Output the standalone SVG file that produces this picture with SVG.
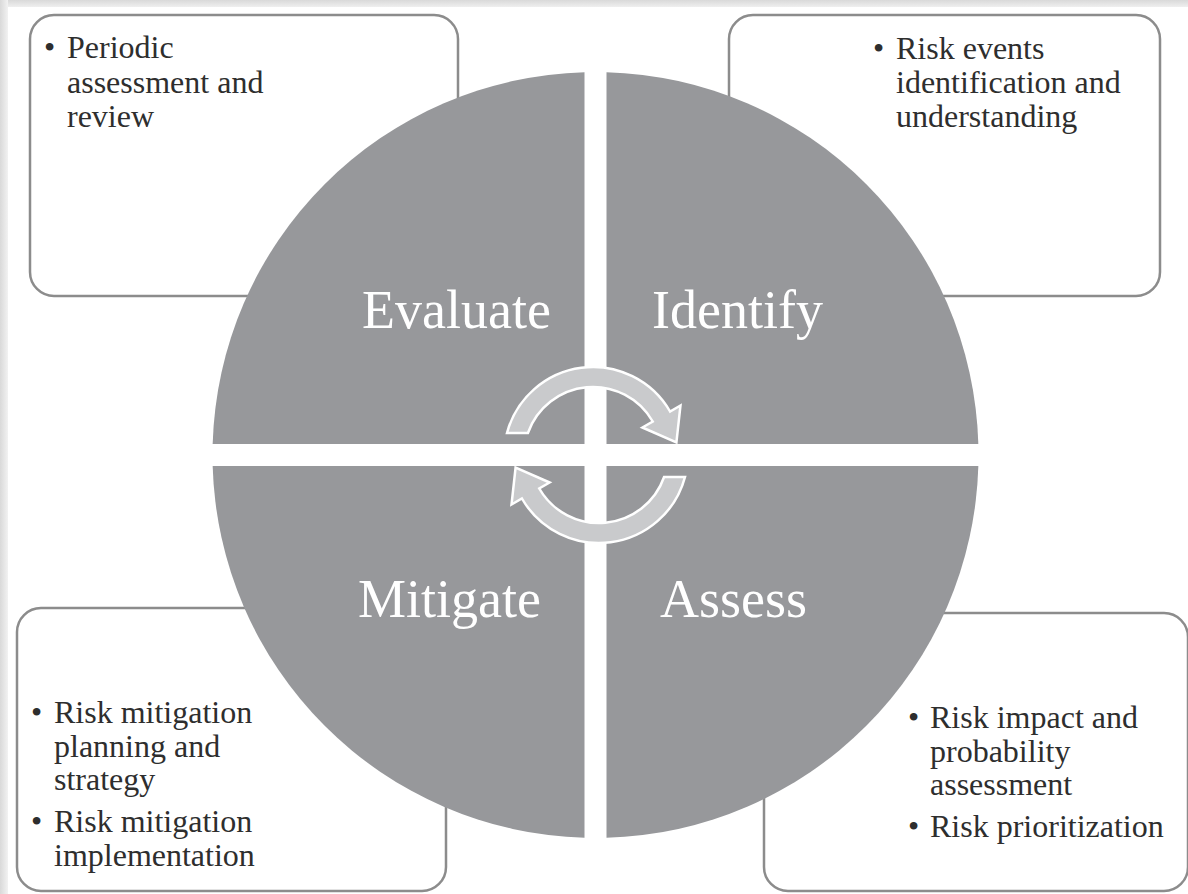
<svg xmlns="http://www.w3.org/2000/svg" width="1188" height="894" viewBox="0 0 1188 894">
  <defs>
    <linearGradient id="gTop" x1="0" y1="0" x2="0" y2="1">
      <stop offset="0" stop-color="#d9d9d9"/>
      <stop offset="1" stop-color="#efefef"/>
    </linearGradient>
    <linearGradient id="gLeft" x1="0" y1="0" x2="1" y2="0">
      <stop offset="0" stop-color="#d9d9d9"/>
      <stop offset="1" stop-color="#f2f2f2"/>
    </linearGradient>
  </defs>
  <style>
    .box { fill: #ffffff; stroke: #8c8c8c; stroke-width: 2.5; }
    .quad { fill: #97989b; }
    .txt { font-family: "Liberation Serif", "Times New Roman", serif; font-size: 32px; fill: #2e2e2e; }
    .big { font-family: "Liberation Serif", "Times New Roman", serif; font-size: 54px; fill: #ffffff; }
    .arrow { fill: #c9cacc; stroke: #ffffff; stroke-width: 2.5; stroke-linejoin: miter; }
  </style>
  <rect x="0" y="0" width="1188" height="894" fill="#ffffff"/>
  <g id="frame">
    <rect x="0" y="0" width="1188" height="7" fill="url(#gTop)"/>
    <rect x="0" y="0" width="8" height="894" fill="url(#gLeft)"/>
  </g>

  <g id="box-evaluate">
    <rect class="box" x="30" y="15" width="428" height="281" rx="24"/>
    <text class="txt"><tspan x="44" y="58">•</tspan><tspan x="67" y="58">Periodic</tspan><tspan x="67" y="93">assessment and</tspan><tspan x="67" y="127">review</tspan></text>
  </g>
  <g id="box-identify">
    <rect class="box" x="729" y="15" width="431" height="281" rx="24"/>
    <text class="txt"><tspan x="873" y="59">•</tspan><tspan x="896" y="59">Risk events</tspan><tspan x="896" y="93">identification and</tspan><tspan x="896" y="127">understanding</tspan></text>
  </g>
  <g id="box-mitigate">
    <rect class="box" x="17" y="608" width="429" height="283" rx="24"/>
    <text class="txt"><tspan x="31" y="723">•</tspan><tspan x="54" y="723">Risk mitigation</tspan><tspan x="54" y="757">planning and</tspan><tspan x="54" y="790">strategy</tspan><tspan x="31" y="832">•</tspan><tspan x="54" y="832">Risk mitigation</tspan><tspan x="54" y="866">implementation</tspan></text>
  </g>
  <g id="box-assess">
    <rect class="box" x="764" y="613" width="424" height="278" rx="24"/>
    <text class="txt"><tspan x="908" y="728">•</tspan><tspan x="930" y="728">Risk impact and</tspan><tspan x="930" y="762">probability</tspan><tspan x="930" y="795">assessment</tspan><tspan x="908" y="837">•</tspan><tspan x="930" y="837">Risk prioritization</tspan></text>
  </g>

  <g id="quad-evaluate">
    <path class="quad" d="M584.5,444 L212.66,444 A383,383 0 0 1 584.5,72.16 Z"/>
    <text class="big" x="362" y="328">Evaluate</text>
  </g>
  <g id="quad-identify">
    <path class="quad" d="M606.5,444 L606.5,72.16 A383,383 0 0 1 978.34,444 Z"/>
    <text class="big" x="652" y="328">Identify</text>
  </g>
  <g id="quad-assess">
    <path class="quad" d="M606.5,466 L978.34,466 A383,383 0 0 1 606.5,837.84 Z"/>
    <text class="big" x="660" y="617">Assess</text>
  </g>
  <g id="quad-mitigate">
    <path class="quad" d="M584.5,466 L584.5,837.84 A383,383 0 0 1 212.66,466 Z"/>
    <text class="big" x="358" y="617">Mitigate</text>
  </g>

  <g id="connectors">
    <path id="arrow-top" class="arrow" d="M507,433 A89,89 0 0 1 670.08,411.5 L680.47,405.5 L676.42,442.5 L642.36,427.5 L652.76,421.5 A69,69 0 0 0 527.9,433 Z"/>
    <path id="arrow-bottom" class="arrow" transform="rotate(180 596 455)" d="M507,433 A89,89 0 0 1 670.08,411.5 L680.47,405.5 L676.42,442.5 L642.36,427.5 L652.76,421.5 A69,69 0 0 0 527.9,433 Z"/>
  </g>
</svg>
